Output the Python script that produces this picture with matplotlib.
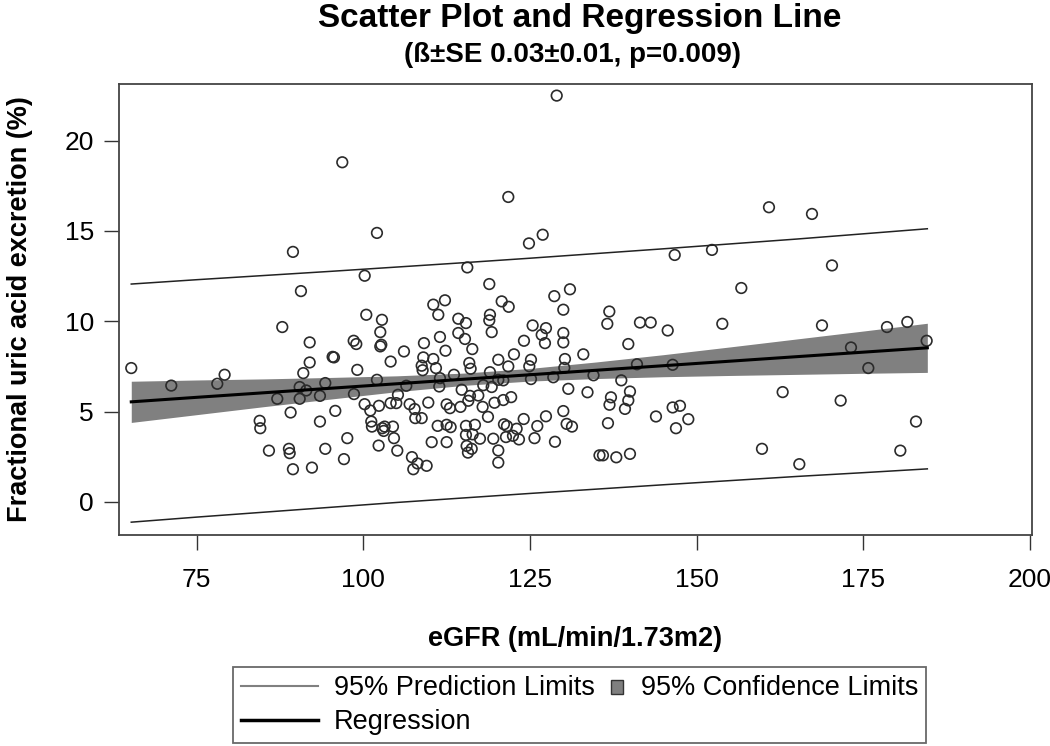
import matplotlib
matplotlib.use("Agg")
import matplotlib.pyplot as plt
from matplotlib.legend_handler import HandlerBase
from matplotlib.lines import Line2D
from matplotlib.patches import Rectangle, Patch

plt.rcParams['font.family'] = ['Liberation Sans', 'DejaVu Sans']

# --- data ---
egfr = [96.85, 102.05, 89.45, 100.21, 90.65, 100.45, 102.8, 129.01, 121.75, 124.85,
        126.91, 115.6, 146.71, 152.3, 118.9, 110.5, 112.25, 111.25, 120.76, 121.81,
        128.65, 131.0, 130.0, 136.9, 114.25, 119.0, 118.9, 141.5, 143.11, 160.85,
        167.3, 170.3, 156.7, 153.85, 168.8, 181.6, 178.55, 184.5, 173.15, 175.75,
        162.9, 171.6, 182.9, 159.8, 180.55, 165.4, 136.6, 65.2, 71.2, 78.1,
        79.2, 87.85, 91.96, 91.96, 91.0, 90.46, 91.45, 90.46, 87.1, 89.1,
        93.5, 94.3, 95.6, 95.4, 98.56, 98.95, 102.55, 102.55, 102.7, 106.1,
        104.1, 99.1, 102.05, 106.45, 98.6, 105.2, 100.2, 101.05, 102.35, 104.1,
        104.95, 106.95, 107.7, 107.8, 108.76, 95.8, 93.5, 84.46, 84.55, 101.2,
        101.3, 102.85, 103.2, 104.45, 103.06, 97.6, 104.6, 85.85, 88.85, 88.96,
        94.3, 102.3, 105.1, 97.1, 107.3, 108.13, 107.5, 89.45, 92.3, 109.5,
        109.1, 111.5, 112.33, 109.0, 108.76, 110.5, 108.9, 110.9, 111.4, 111.5,
        109.75, 112.5, 111.16, 112.5, 110.26, 112.5, 115.4, 119.26, 114.25, 115.25,
        116.35, 125.4, 127.4, 126.76, 127.25, 130.0, 130.0, 124.1, 122.6, 120.25,
        125.15, 124.9, 130.25, 130.15, 133.0, 139.75, 145.66, 115.9, 116.1, 113.6,
        121.75, 119.0, 120.25, 121.0, 119.26, 118.0, 125.15, 128.5, 134.53, 141.05,
        146.4, 138.7, 130.75, 133.63, 140.0, 139.75, 137.15, 136.93, 139.25, 114.76,
        116.0, 115.75, 117.25, 113.0, 114.58, 117.9, 119.68, 121.0, 122.18, 118.7,
        124.06, 127.4, 130.0, 136.7, 143.9, 146.4, 147.5, 148.75, 146.9, 113.1,
        115.4, 116.75, 115.4, 116.4, 117.5, 119.5, 121.1, 121.55, 123.0, 122.45,
        123.35, 121.4, 126.1, 125.68, 130.5, 131.3, 128.75, 115.5, 116.26, 115.7,
        120.25, 120.25, 135.43, 135.95, 137.95, 140.0]
fuae = [18.80, 14.89, 13.84, 12.52, 11.67, 10.36, 10.08, 22.49, 16.88, 14.31,
        14.79, 12.98, 13.67, 13.95, 12.06, 10.92, 11.16, 10.36, 11.10, 10.80,
        11.39, 11.77, 10.64, 10.54, 10.14, 10.36, 10.05, 9.93, 9.93, 16.31,
        15.94, 13.09, 11.84, 9.86, 9.77, 9.96, 9.68, 8.92, 8.55, 7.41,
        6.08, 5.61, 4.45, 2.94, 2.84, 2.09, 9.86, 7.41, 6.44, 6.54,
        7.04, 9.68, 8.83, 7.72, 7.13, 6.36, 6.17, 5.71, 5.71, 4.95,
        5.87, 6.58, 8.00, 8.03, 8.92, 8.74, 9.40, 8.61, 8.70, 8.33,
        7.77, 7.31, 6.76, 6.43, 5.97, 5.93, 5.41, 5.06, 5.32, 5.47,
        5.47, 5.41, 5.14, 4.64, 4.64, 5.04, 4.45, 4.49, 4.08, 4.45,
        4.17, 4.08, 4.17, 4.17, 3.93, 3.53, 3.53, 2.84, 2.94, 2.70,
        2.94, 3.12, 2.84, 2.37, 2.48, 2.13, 1.81, 1.81, 1.90, 2.00,
        8.79, 9.13, 8.37, 8.00, 7.54, 7.91, 7.29, 7.41, 6.39, 6.85,
        5.50, 5.40, 4.21, 4.27, 3.31, 3.31, 9.90, 9.40, 9.35, 9.02,
        8.46, 9.77, 9.62, 9.25, 8.79, 9.35, 8.83, 8.92, 8.17, 7.87,
        7.87, 7.51, 7.91, 7.42, 8.17, 8.74, 9.49, 7.69, 7.37, 7.04,
        7.50, 7.18, 6.76, 6.73, 6.36, 6.46, 6.80, 6.90, 7.01, 7.62,
        7.59, 6.73, 6.26, 6.07, 6.11, 5.62, 5.79, 5.38, 5.15, 6.21,
        5.87, 5.60, 5.89, 5.19, 5.26, 5.26, 5.49, 5.64, 5.80, 4.71,
        4.59, 4.74, 5.03, 4.36, 4.73, 5.23, 5.32, 4.58, 4.08, 4.14,
        4.21, 4.27, 3.71, 3.74, 3.50, 3.50, 4.30, 4.20, 4.05, 3.66,
        3.46, 3.59, 4.20, 3.53, 4.32, 4.17, 3.33, 3.10, 2.94, 2.73,
        2.85, 2.18, 2.58, 2.58, 2.47, 2.66]

# fitted line and limits, read at these eGFR values
fit_x = [65.2, 75, 85, 95, 105, 115, 125, 135, 145, 155, 165, 175, 184.6]
fit_y = [5.54, 5.79, 6.04, 6.29, 6.54, 6.79, 7.04, 7.29, 7.54, 7.79, 8.04, 8.29, 8.53]
cl_lo = [4.40, 4.83, 5.27, 5.69, 6.10, 6.45, 6.69, 6.83, 6.93, 7.00, 7.06, 7.12, 7.17]
cl_hi = [6.68, 6.75, 6.81, 6.89, 6.98, 7.13, 7.39, 7.75, 8.15, 8.58, 9.02, 9.46, 9.89]
pl_lo = [-1.12, -0.84, -0.57, -0.30, -0.03, 0.22, 0.47, 0.71, 0.95, 1.18, 1.41, 1.62, 1.83]
pl_hi = [12.06, 12.30, 12.53, 12.76, 13.00, 13.24, 13.49, 13.75, 14.01, 14.28, 14.55, 14.84, 15.12]

x_ticks = [75, 100, 125, 150, 175, 200]
y_ticks = [0, 5, 10, 15, 20]


class SquareHandler(HandlerBase):
    # small square at the right end of the handle box (SAS style)
    def create_artists(self, legend, orig_handle, xdescent, ydescent,
                       width, height, fontsize, trans):
        s = 0.5 * fontsize
        r = Rectangle((width - xdescent - s, height / 2 - ydescent - s / 2 - 1), s * 0.85, s * 1.05,
                      facecolor='#7f7f7f', edgecolor='#333333', lw=1.0, transform=trans)
        return [r]


fig = plt.figure(figsize=(10.5, 7.46), dpi=100)
ax = fig.add_axes([119 / 1050, 1 - 535 / 746, 913 / 1050, 451.5 / 746])

ax.fill_between(fit_x, cl_lo, cl_hi, color='#808080', lw=0, zorder=1)
ax.scatter(egfr, fuae, s=58, facecolors='none', edgecolors='#2b2b2b', linewidths=1.2, zorder=2)
ax.plot(fit_x, pl_hi, color='#222222', lw=1.1, zorder=3)
ax.plot(fit_x, pl_lo, color='#222222', lw=1.1, zorder=3)
ax.plot(fit_x, fit_y, color='black', lw=2.2, zorder=4)

ax.set_xlim(63.36, 200.3)
ax.set_ylim(-1.83, 23.16)
ax.set_xticks(x_ticks)
ax.set_yticks(y_ticks)
ax.tick_params(direction='out', length=11, width=1.0, color='#333333',
               labelsize=19, pad=7)
ax.tick_params(axis='x', pad=13)
for sp in ax.spines.values():
    sp.set_color('#444444')
    sp.set_linewidth(1.3)

ax.set_xlabel('eGFR (mL/min/1.73m2)', fontsize=19.5, fontweight='bold', labelpad=24)
ax.set_ylabel('Fractional uric acid excretion (%)', fontsize=19.5, fontweight='bold', labelpad=23)

fig.text(580 / 1050, 1 - 18 / 746, 'Scatter Plot and Regression Line',
         ha='center', va='center', fontsize=24, fontweight='bold')
fig.text(572 / 1050, 1 - 55 / 746, '(ß±SE 0.03±0.01, p=0.009)',
         ha='center', va='center', fontsize=20, fontweight='bold')

h_pred = Line2D([], [], color='#808080', lw=1.5)
h_reg = Line2D([], [], color='black', lw=2.5)
h_conf = Patch(facecolor='#7f7f7f')
leg = fig.legend([h_pred, h_reg, h_conf],
                 ['95% Prediction Limits', 'Regression', '95% Confidence Limits'],
                 ncol=2, loc='upper center', bbox_to_anchor=(579.5 / 1050, 1 - 667 / 746),
                 fontsize=19.5, frameon=True, fancybox=False, edgecolor='#444444',
                 handlelength=2.85, handletextpad=0.6, columnspacing=-1.75,
                 labelspacing=0.3, borderpad=0.3, borderaxespad=0,
                 handler_map={Patch: SquareHandler()})
leg.get_frame().set_linewidth(1.3)

fig.savefig('out.png', dpi=100)
